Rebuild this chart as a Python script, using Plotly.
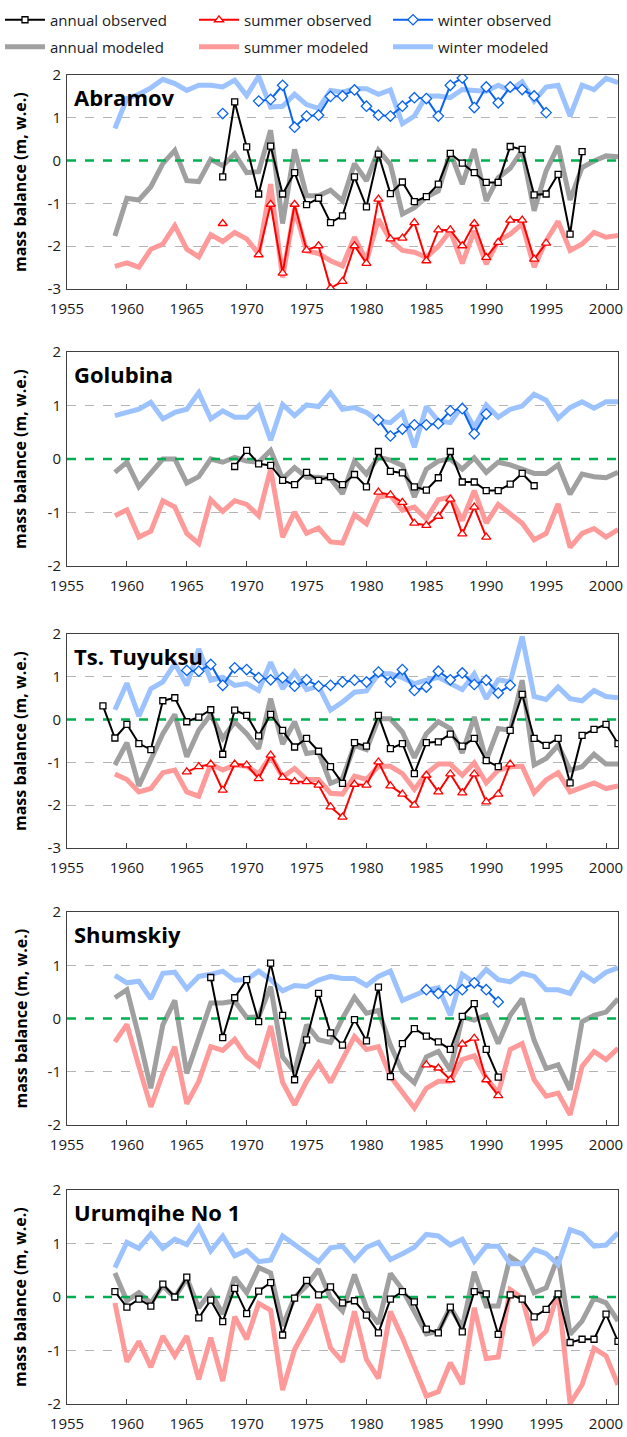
import plotly.graph_objects as go

W, H = 627, 1437
FONT = "Open Sans"

MODEL_YEARS = list(range(1959, 2002))
X_RANGE = [1955, 2001]

# ---------------- Abramov ----------------
abramov_annual_mod = [-1.76, -0.88, -0.92, -0.61, -0.07, 0.24, -0.47, -0.49, 0.03, -0.12,
                      0.16, -0.28, -0.26, 0.71, -1.47, 0.26, -0.82, -0.82, -0.69, -0.94,
                      -0.07, -0.47, 0.24, -0.09, -1.25, -1.10, -0.85, -0.71, 0.19, -0.55,
                      0.27, -0.94, -0.40, -0.18, 0.24, -1.17, -0.24, 0.34, -0.92, -0.16,
                      -0.01, 0.11, 0.09]
abramov_summer_mod = [-2.47, -2.39, -2.49, -2.07, -1.95, -1.52, -2.07, -2.25, -1.73, -1.89,
                      -1.68, -1.83, -2.18, -0.55, -2.73, -1.13, -2.11, -2.17, -2.34, -2.46,
                      -1.79, -2.34, -1.37, -1.86, -2.10, -2.14, -2.26, -2.00, -1.64, -2.40,
                      -1.64, -2.42, -1.87, -1.72, -1.48, -2.49, -1.87, -1.42, -2.10, -1.95,
                      -1.68, -1.79, -1.75]
abramov_winter_mod = [0.75, 1.45, 1.55, 1.70, 1.90, 1.80, 1.64, 1.76, 1.76, 1.72,
                      1.88, 1.52, 1.97, 1.25, 1.27, 1.55, 1.31, 1.22, 1.64, 1.60,
                      1.68, 1.68, 1.55, 1.65, 0.86, 1.04, 1.51, 1.51, 1.47, 1.66,
                      1.64, 1.62, 1.76, 1.64, 1.84, 1.39, 1.72, 1.76, 1.04, 1.76,
                      1.66, 1.92, 1.82]
abramov_annual_years = list(range(1968, 1999))
abramov_annual_obs = [-0.38, 1.37, 0.32, -0.78, 0.34, -0.78, -0.28, -1.03, -0.88, -1.45,
                      -1.29, -0.38, -1.08, 0.15, -0.77, -0.50, -0.96, -0.84, -0.55, 0.17,
                      -0.06, -0.28, -0.51, -0.51, 0.33, 0.26, -0.80, -0.78, -0.32, -1.72,
                      0.21]
abramov_season_years = list(range(1968, 1996))
abramov_summer_obs = [-1.47, None, None, -2.20, -1.02, -2.63, -1.02, -2.09, -1.99, -2.98,
                      -2.82, -1.99, -2.40, -0.90, -1.83, -1.81, -1.45, -2.34, -1.62, -1.62,
                      -1.99, -1.47, -2.26, -1.91, -1.39, -1.39, -2.30, -1.93]
abramov_winter_obs = [1.10, None, None, 1.39, 1.43, 1.76, 0.78, 1.04, 1.06, 1.50,
                      1.51, 1.65, 1.27, 1.06, 1.04, 1.27, 1.47, 1.45, 1.04, 1.76,
                      1.93, 1.24, 1.72, 1.35, 1.72, 1.66, 1.51, 1.12]

# ---------------- Golubina ----------------
golubina_annual_mod = [-0.25, -0.06, -0.52, -0.25, 0.00, 0.00, -0.45, -0.33, 0.00, -0.06,
                       0.03, -0.04, -0.06, 0.16, -0.37, -0.16, -0.34, -0.34, -0.37, -0.65,
                       -0.04, -0.28, 0.03, -0.02, -0.12, -0.71, -0.19, -0.04, 0.00, -0.19,
                       0.02, -0.25, -0.06, -0.11, -0.19, -0.27, -0.27, -0.11, -0.66, -0.28,
                       -0.33, -0.35, -0.25]
golubina_summer_mod = [-1.06, -0.95, -1.46, -1.35, -0.78, -0.90, -1.39, -1.58, -0.76, -0.98,
                       -0.78, -0.85, -1.06, -0.19, -1.46, -0.99, -1.39, -1.29, -1.55, -1.57,
                       -1.04, -1.21, -0.71, -0.68, -0.96, -0.90, -1.12, -0.76, -0.71, -1.15,
                       -0.59, -1.20, -0.85, -1.02, -1.20, -1.51, -1.39, -0.84, -1.65, -1.39,
                       -1.30, -1.46, -1.32]
golubina_winter_mod = [0.81, 0.87, 0.93, 1.06, 0.75, 0.87, 0.93, 1.24, 0.75, 0.90,
                       0.78, 0.78, 0.99, 0.35, 1.02, 0.81, 1.01, 0.98, 1.24, 0.93,
                       0.96, 0.87, 0.71, 0.68, 0.87, 0.22, 0.98, 0.71, 0.68, 0.99,
                       0.59, 1.01, 0.78, 0.93, 0.99, 1.21, 1.10, 0.76, 0.96, 1.07,
                       0.95, 1.07, 1.07]
golubina_annual_years = list(range(1969, 1995))
golubina_annual_obs = [-0.14, 0.16, -0.09, -0.12, -0.40, -0.48, -0.25, -0.40, -0.33, -0.48,
                       -0.29, -0.52, 0.14, -0.23, -0.26, -0.52, -0.58, -0.35, 0.14, -0.43,
                       -0.43, -0.59, -0.59, -0.47, -0.27, -0.50]
golubina_season_years = list(range(1981, 1991))
golubina_summer_obs = [-0.62, -0.67, -0.81, -1.20, -1.24, -1.07, -0.75, -1.40, -0.90, -1.46]
golubina_winter_obs = [0.73, 0.43, 0.56, 0.64, 0.64, 0.66, 0.90, 0.94, 0.47, 0.84]

# ---------------- Ts. Tuyuksu ----------------
tuyuksu_annual_mod = [-1.06, -0.54, -1.55, -0.95, -0.33, 0.12, -0.87, -0.25, 0.12, -0.44,
                      -0.05, -0.33, -0.68, 0.49, -0.57, -0.05, -0.79, -0.75, -1.49, -1.38,
                      -0.60, -0.70, 0.02, 0.02, -0.29, -0.89, -0.33, -0.05, -0.21, -0.78,
                      0.06, -0.95, -0.21, -0.25, 0.92, -1.06, -0.91, -0.60, -1.18, -1.10,
                      -0.81, -1.04, -1.04]
tuyuksu_summer_mod = [-1.27, -1.40, -1.69, -1.61, -1.24, -1.18, -1.69, -1.79, -1.04, -1.18,
                      -1.06, -1.09, -1.27, -0.85, -1.34, -1.14, -1.40, -1.40, -1.72, -1.74,
                      -1.32, -1.40, -1.09, -1.09, -1.26, -1.63, -1.26, -1.04, -1.04, -1.30,
                      -1.01, -1.48, -1.18, -1.10, -1.09, -1.71, -1.41, -1.24, -1.69, -1.59,
                      -1.48, -1.61, -1.55]
tuyuksu_winter_mod = [0.23, 0.85, 0.08, 0.72, 0.88, 1.31, 0.80, 1.65, 0.92, 0.99,
                      0.80, 0.84, 0.68, 1.34, 0.72, 1.11, 0.70, 0.78, 0.22, 0.41,
                      0.64, 0.67, 1.07, 1.07, 0.98, 0.84, 0.92, 0.99, 0.84, 0.70,
                      1.07, 0.49, 0.93, 0.88, 1.94, 0.54, 0.47, 0.76, 0.49, 0.44,
                      0.68, 0.54, 0.51]
tuyuksu_annual_years = list(range(1958, 2002))
tuyuksu_annual_obs = [0.32, -0.43, -0.11, -0.56, -0.70, 0.44, 0.51, -0.05, 0.06, 0.23,
                      -0.81, 0.22, 0.10, -0.38, 0.12, -0.25, -0.64, -0.44, -0.74, -1.10,
                      -1.49, -0.54, -0.62, 0.10, -0.68, -0.56, -1.26, -0.54, -0.52, -0.34,
                      -0.62, -0.44, -0.96, -1.10, -0.25, 0.59, -0.44, -0.60, -0.44, -1.48,
                      -0.37, -0.23, -0.11, -0.56]
tuyuksu_season_years = list(range(1965, 1993))
tuyuksu_summer_obs = [-1.22, -1.10, -1.04, -1.65, -1.04, -1.06, -1.38, -0.83, -1.35, -1.45,
                      -1.45, -1.53, -2.04, -2.28, -1.51, -1.53, -0.99, -1.55, -1.74, -2.00,
                      -1.30, -1.69, -1.27, -1.71, -1.27, -1.92, -1.74, -1.04]
tuyuksu_winter_obs = [1.15, 1.13, 1.29, 0.80, 1.21, 1.17, 0.98, 0.93, 0.98, 0.78,
                      0.93, 0.78, 0.80, 0.88, 0.92, 0.88, 1.11, 0.88, 1.17, 0.68,
                      0.76, 1.13, 0.93, 1.09, 0.82, 0.92, 0.62, 0.80]

# ---------------- Shumskiy ----------------
shumskiy_annual_mod = [0.39, 0.54, -0.34, -1.31, -0.12, 0.34, -1.03, -0.40, 0.29, 0.29,
                       0.33, 0.02, 0.03, 0.60, -0.72, -1.00, -0.12, -0.40, -0.45, 0.00,
                       0.40, 0.10, 0.15, -0.50, -1.00, -1.21, -0.72, -0.62, -0.97, 0.03,
                       -0.03, 0.06, -0.47, 0.06, 0.37, -0.41, -0.94, -0.87, -1.34, -0.06,
                       0.06, 0.12, 0.37]
shumskiy_summer_mod = [-0.44, -0.11, -0.90, -1.66, -1.03, -0.53, -1.60, -1.18, -0.53, -0.60,
                       -0.39, -0.72, -0.89, -0.14, -1.20, -1.62, -1.18, -0.84, -1.20, -0.78,
                       -0.34, -0.58, -0.53, -1.09, -1.37, -1.68, -1.31, -1.18, -1.18, -0.77,
                       -0.70, -1.12, -1.40, -0.58, -0.47, -1.15, -1.46, -1.40, -1.81, -0.90,
                       -0.62, -0.77, -0.56]
shumskiy_winter_mod = [0.81, 0.67, 0.70, 0.37, 0.85, 0.87, 0.56, 0.79, 0.83, 0.89,
                       0.72, 0.73, 0.89, 0.73, 0.52, 0.62, 0.60, 0.72, 0.79, 0.75,
                       0.75, 0.62, 0.79, 0.89, 0.34, 0.44, 0.53, 0.58, 0.06, 0.83,
                       0.67, 0.92, 0.73, 0.69, 0.85, 0.79, 0.54, 0.54, 0.47, 0.85,
                       0.70, 0.87, 0.95]
shumskiy_annual_years = list(range(1967, 1992))
shumskiy_annual_obs = [0.77, -0.36, 0.39, 0.73, -0.06, 1.04, 0.06, -1.15, -0.40, 0.47,
                       -0.27, -0.50, -0.02, -0.42, 0.59, -1.09, -0.47, -0.19, -0.33, -0.44,
                       -0.58, 0.04, 0.28, -0.58, -1.10]
shumskiy_season_years = list(range(1985, 1992))
shumskiy_summer_obs = [-0.87, -0.93, -1.15, -0.48, -0.37, -1.15, -1.45]
shumskiy_winter_obs = [0.54, 0.47, 0.53, 0.54, 0.67, 0.54, 0.31]

# ---------------- Urumqihe No 1 ----------------
urumqi_annual_mod = [0.45, -0.07, 0.08, -0.11, 0.21, -0.01, 0.35, -0.20, 0.10, -0.32,
                     0.37, 0.08, 0.55, 0.45, -0.54, -0.01, 0.21, 0.52, -0.02, -0.26,
                     0.42, -0.20, -0.50, 0.44, 0.14, -0.26, -0.69, -0.64, -0.19, -0.57,
                     0.47, -0.17, -0.17, 0.75, 0.60, 0.08, 0.17, 0.75, -0.70, -0.45,
                     -0.02, -0.11, -0.45]
urumqi_summer_mod = [-0.11, -1.21, -0.83, -1.31, -0.73, -1.10, -0.73, -1.54, -0.76, -1.57,
                     -0.37, -0.79, -0.12, -0.25, -1.74, -0.98, -0.57, -0.14, -0.95, -1.21,
                     -0.27, -1.17, -1.52, -0.27, -0.76, -1.29, -1.85, -1.77, -1.23, -1.63,
                     -0.20, -1.15, -1.12, 0.14, -0.02, -0.85, -0.64, 0.10, -1.99, -1.64,
                     -0.96, -1.10, -1.64]
urumqi_winter_mod = [0.55, 1.02, 0.91, 1.18, 0.91, 1.08, 0.98, 1.31, 0.86, 1.14,
                     0.77, 0.87, 0.66, 0.69, 1.14, 0.98, 0.81, 0.66, 0.92, 0.95,
                     0.69, 0.93, 1.02, 0.70, 0.81, 0.93, 1.17, 1.14, 0.97, 1.08,
                     0.67, 0.95, 0.95, 0.62, 0.62, 0.89, 0.81, 0.61, 1.26, 1.18,
                     0.95, 0.97, 1.20]
urumqi_annual_years = list(range(1959, 2002))
urumqi_annual_obs = [0.10, -0.19, -0.04, -0.17, 0.24, 0.00, 0.37, -0.39, -0.06, -0.46,
                     0.16, -0.31, 0.11, 0.27, -0.71, -0.02, 0.31, 0.04, 0.19, -0.11,
                     -0.07, -0.34, -0.67, -0.04, 0.10, -0.09, -0.60, -0.67, -0.19, -0.65,
                     0.10, 0.06, -0.70, 0.04, -0.04, -0.37, -0.23, 0.06, -0.85, -0.79,
                     -0.79, -0.32, -0.83]

Y_TICKS = [-3, -2, -1, 0, 1, 2]
Y_TICK_TEXT = ["-3", "-2", "-1", "0", "1", "2"]

# panel layout (pixel box: top, bottom) and y range
panels = [
    dict(name="Abramov", top=75, bottom=289, yr=[-3, 2],
         amod=abramov_annual_mod, smod=abramov_summer_mod, wmod=abramov_winter_mod,
         ay=abramov_annual_years, aobs=abramov_annual_obs,
         sy=abramov_season_years, sobs=abramov_summer_obs, wobs=abramov_winter_obs),
    dict(name="Golubina", top=352, bottom=566, yr=[-2, 2],
         amod=golubina_annual_mod, smod=golubina_summer_mod, wmod=golubina_winter_mod,
         ay=golubina_annual_years, aobs=golubina_annual_obs,
         sy=golubina_season_years, sobs=golubina_summer_obs, wobs=golubina_winter_obs),
    dict(name="Ts. Tuyuksu", top=634, bottom=848, yr=[-3, 2],
         amod=tuyuksu_annual_mod, smod=tuyuksu_summer_mod, wmod=tuyuksu_winter_mod,
         ay=tuyuksu_annual_years, aobs=tuyuksu_annual_obs,
         sy=tuyuksu_season_years, sobs=tuyuksu_summer_obs, wobs=tuyuksu_winter_obs),
    dict(name="Shumskiy", top=912, bottom=1125, yr=[-2, 2],
         amod=shumskiy_annual_mod, smod=shumskiy_summer_mod, wmod=shumskiy_winter_mod,
         ay=shumskiy_annual_years, aobs=shumskiy_annual_obs,
         sy=shumskiy_season_years, sobs=shumskiy_summer_obs, wobs=shumskiy_winter_obs),
    dict(name="Urumqihe No 1", top=1190, bottom=1404, yr=[-2, 2],
         amod=urumqi_annual_mod, smod=urumqi_summer_mod, wmod=urumqi_winter_mod,
         ay=urumqi_annual_years, aobs=urumqi_annual_obs,
         sy=None, sobs=None, wobs=None),
]

C_ANN_OBS = "#000000"
C_ANN_MOD = "#a0a0a0"
C_SUM_OBS = "#ff0000"
C_SUM_MOD = "#ff9a9a"
C_WIN_OBS = "#0a64f0"
C_WIN_MOD = "#9cc3ff"
C_ZERO = "#00b050"

X_LEFT, X_RIGHT = 67, 618

fig = go.Figure()
layout = dict(
    width=W, height=H,
    margin=dict(l=0, r=0, t=0, b=0, autoexpand=False),
    plot_bgcolor="white", paper_bgcolor="white",
    font=dict(family=FONT, size=15, color="#1a1a1a"),
    annotations=[],
)

for i, p in enumerate(panels):
    n = i + 1
    xa = "x" if n == 1 else f"x{n}"
    ya = "y" if n == 1 else f"y{n}"
    first = (n == 1)

    def add(x, y, name, color, width, legend, rank, symbol=None, msize=None):
        kw = dict(x=x, y=y, xaxis=xa, yaxis=ya, name=name, legend=legend,
                  legendrank=rank, showlegend=first, hoverinfo="skip")
        if symbol is None:
            kw.update(mode="lines", line=dict(color=color, width=width))
        else:
            kw.update(mode="lines+markers", line=dict(color=color, width=width),
                      marker=dict(symbol=symbol, size=msize, color="white",
                                  line=dict(color=color, width=1.3)))
        fig.add_trace(go.Scatter(**kw))

    add(MODEL_YEARS, p["amod"], "annual modeled", C_ANN_MOD, 5, "legend2", 4)
    add(MODEL_YEARS, p["smod"], "summer modeled", C_SUM_MOD, 5, "legend2", 5)
    add(MODEL_YEARS, p["wmod"], "winter modeled", C_WIN_MOD, 5, "legend2", 6)
    # zero reference line
    fig.add_trace(go.Scatter(x=X_RANGE, y=[0, 0], xaxis=xa, yaxis=ya, mode="lines",
                             line=dict(color=C_ZERO, width=2.5, dash="dash"),
                             showlegend=False, hoverinfo="skip"))
    if p["sy"] is not None:
        add(p["sy"], p["sobs"], "summer observed", C_SUM_OBS, 2, "legend", 2,
            "triangle-up", 8)
        add(p["sy"], p["wobs"], "winter observed", C_WIN_OBS, 2, "legend", 3,
            "diamond", 8)
    add(p["ay"], p["aobs"], "annual observed", C_ANN_OBS, 2, "legend", 1, "square", 6)

    y0 = 1 - p["bottom"] / H
    y1 = 1 - p["top"] / H
    lo, hi = p["yr"]
    tv = [t for t in Y_TICKS if lo <= t <= hi]
    tt = [Y_TICK_TEXT[Y_TICKS.index(t)] for t in tv]
    layout["xaxis" if n == 1 else f"xaxis{n}"] = dict(
        domain=[X_LEFT / W, X_RIGHT / W], range=X_RANGE, anchor=ya,
        tickmode="linear", tick0=1955, dtick=5, ticks="inside", ticklen=5,
        tickcolor="#404040", showline=True, linecolor="#404040", linewidth=1,
        mirror=True, showgrid=False, zeroline=False, ticklabelstandoff=6,
        tickfont=dict(family=FONT, size=15, color="#1a1a1a"))
    layout["yaxis" if n == 1 else f"yaxis{n}"] = dict(
        domain=[y0, y1], range=[lo, hi], anchor=xa,
        tickmode="array", tickvals=tv, ticktext=tt, ticks="",
        showline=True, linecolor="#404040", linewidth=1, mirror=True,
        showgrid=True, gridcolor="#b4b4b4", griddash="dash", gridwidth=1,
        zeroline=False, ticklabelstandoff=2,
        tickfont=dict(family=FONT, size=15, color="#1a1a1a"))
    layout["annotations"].append(dict(
        text=f"<b>{p['name']}</b>", xref="paper", yref="paper",
        x=(X_LEFT + 5) / W, y=1 - (p["top"] + 22) / H, xanchor="left",
        yanchor="middle", showarrow=False,
        font=dict(family=FONT, size=22, color="#000000")))
    layout["annotations"].append(dict(
        text="<b>mass balance (m, w.e.)</b>", xref="paper", yref="paper",
        x=20 / W, y=1 - (p["top"] + p["bottom"]) / 2 / H, textangle=-90,
        xanchor="center", yanchor="middle", showarrow=False,
        font=dict(family=FONT, size=16, color="#000000")))

leg_common = dict(orientation="h", xanchor="left", yanchor="middle",
                  entrywidth=139, entrywidthmode="pixels", itemwidth=40,
                  bgcolor="rgba(0,0,0,0)", font=dict(family=FONT, size=15, color="#1a1a1a"),
                  traceorder="normal")
layout["legend"] = dict(x=0.0, y=1 - 20 / H, **leg_common)
layout["legend2"] = dict(x=0.0, y=1 - 47 / H, **leg_common)

fig.update_layout(**layout)
fig.write_html("out.html")
